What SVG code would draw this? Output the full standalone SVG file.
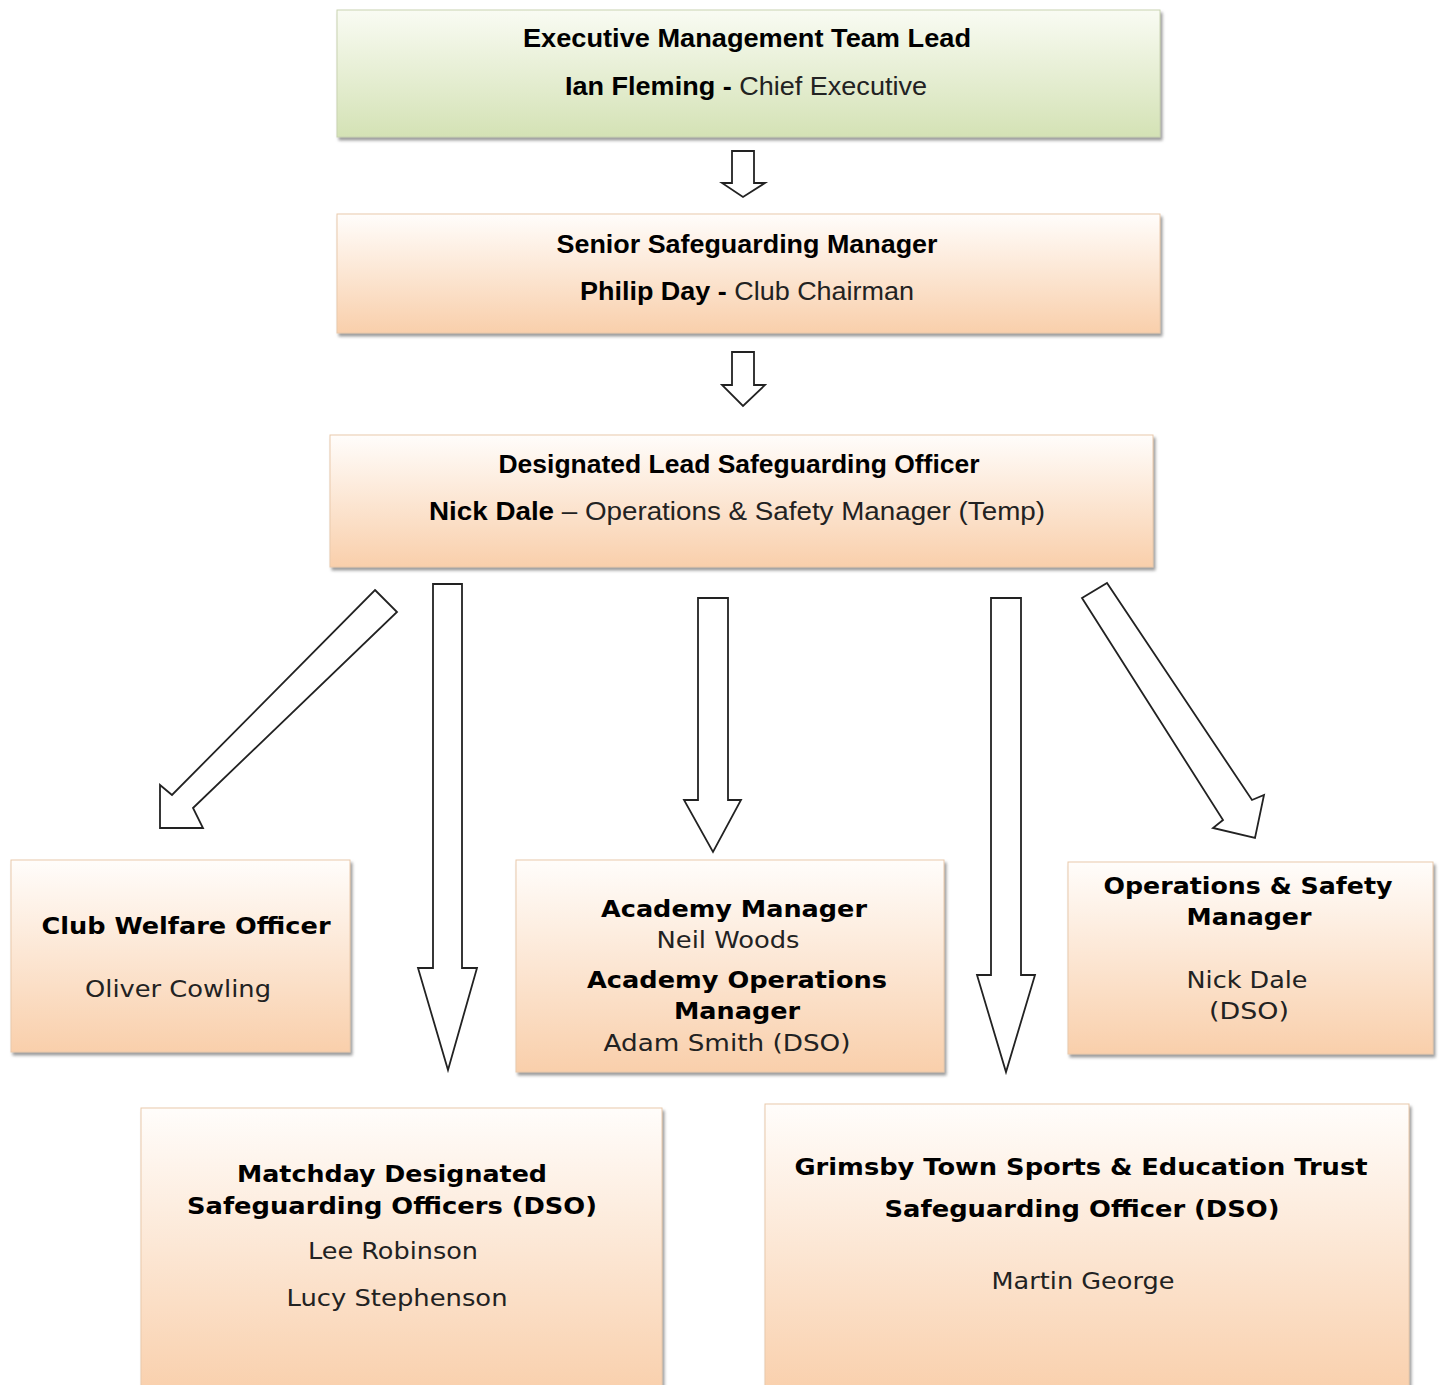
<svg xmlns="http://www.w3.org/2000/svg" width="1441" height="1385" viewBox="0 0 1441 1385">
<style>
.t{font-family:"Liberation Sans",Arial,sans-serif;font-size:25px;fill:#111;text-anchor:middle}
.v{font-family:"DejaVu Sans",Verdana,sans-serif;font-size:23px;fill:#222;text-anchor:middle}
.b{font-weight:bold;fill:#000}
.n{font-weight:normal;fill:#222}
.peach{fill:url(#gp);stroke:#e9c9ab;stroke-width:1;filter:url(#sh)}
.green{fill:url(#gg);stroke:#c9d3b2;stroke-width:1;filter:url(#sh)}
.arr{fill:#fff;stroke:#222;stroke-width:1.8;stroke-linejoin:miter}
</style>
<defs>
<linearGradient id="gp" x1="0" y1="0" x2="0" y2="1">
<stop offset="0" stop-color="#fffdfb"/>
<stop offset="1" stop-color="#f9cfab"/>
</linearGradient>
<linearGradient id="gg" x1="0" y1="0" x2="0" y2="1">
<stop offset="0" stop-color="#f9fbf3"/>
<stop offset="1" stop-color="#d4e2b5"/>
</linearGradient>
<filter id="sh" x="-5%" y="-5%" width="112%" height="120%">
<feDropShadow dx="2" dy="3" stdDeviation="1.8" flood-color="#7a7a7a" flood-opacity="0.75"/>
</filter>
</defs>
<rect width="1441" height="1385" fill="#fff"/>

<g id="connectors">
<path class="arr" d="M732,151 H754 V183 H765 L743,197 L722,183 H732 Z"/>
<path class="arr" d="M732,352 H754 V385 H765 L743,406 L722,385 H732 Z"/>
<path class="arr" d="M375,590 L397,612 L193,808 L203,828 L160,828 L160,785 L172,795 Z"/>
<path class="arr" d="M433,584 H462 V968 H477 L448,1070 L418,968 H433 Z"/>
<path class="arr" d="M698,598 H728 V800 H741 L713,852 L684,800 H698 Z"/>
<path class="arr" d="M991,598 H1021 V975 H1035 L1006,1072 L977,975 H991 Z"/>
<path class="arr" d="M1082,598 L1107,583 L1252,800 L1264,795 L1255,838 L1213,828 L1223,820 Z"/>
</g>

<g id="exec">
<rect class="green" x="337" y="10" width="823" height="127"/>
<text class="t b" x="747" y="47" textLength="448" lengthAdjust="spacingAndGlyphs">Executive Management Team Lead</text>
<text class="t" x="746" y="95" textLength="362" lengthAdjust="spacingAndGlyphs"><tspan class="b">Ian Fleming - </tspan><tspan class="n">Chief Executive</tspan></text>
</g>

<g id="senior">
<rect class="peach" x="337" y="214" width="823" height="119"/>
<text class="t b" x="747" y="253" textLength="381" lengthAdjust="spacingAndGlyphs">Senior Safeguarding Manager</text>
<text class="t" x="747" y="300" textLength="334" lengthAdjust="spacingAndGlyphs"><tspan class="b">Philip Day - </tspan><tspan class="n">Club Chairman</tspan></text>
</g>

<g id="dlso">
<rect class="peach" x="330" y="435" width="823" height="132"/>
<text class="t b" x="739" y="473" textLength="481" lengthAdjust="spacingAndGlyphs">Designated Lead Safeguarding Officer</text>
<text class="t" x="737" y="520" textLength="616" lengthAdjust="spacingAndGlyphs"><tspan class="b">Nick Dale</tspan><tspan class="n"> – Operations &amp; Safety Manager (Temp)</tspan></text>
</g>

<g id="welfare">
<rect class="peach" x="11" y="860" width="339" height="192"/>
<text class="v b" x="186" y="934" textLength="289" lengthAdjust="spacingAndGlyphs">Club Welfare Officer</text>
<text class="v" x="178" y="997" textLength="186" lengthAdjust="spacingAndGlyphs">Oliver Cowling</text>
</g>

<g id="academy">
<rect class="peach" x="516" y="860" width="428" height="212"/>
<text class="v b" x="734" y="917" textLength="266" lengthAdjust="spacingAndGlyphs">Academy Manager</text>
<text class="v" x="728" y="948" textLength="143" lengthAdjust="spacingAndGlyphs">Neil Woods</text>
<text class="v b" x="737" y="988" textLength="300" lengthAdjust="spacingAndGlyphs">Academy Operations</text>
<text class="v b" x="737" y="1019" textLength="126" lengthAdjust="spacingAndGlyphs">Manager</text>
<text class="v" x="727" y="1051" textLength="247" lengthAdjust="spacingAndGlyphs">Adam Smith (DSO)</text>
</g>

<g id="opsafety">
<rect class="peach" x="1068" y="862" width="365" height="192"/>
<text class="v b" x="1248" y="894" textLength="289" lengthAdjust="spacingAndGlyphs">Operations &amp; Safety</text>
<text class="v b" x="1249" y="925" textLength="125" lengthAdjust="spacingAndGlyphs">Manager</text>
<text class="v" x="1247" y="988" textLength="121" lengthAdjust="spacingAndGlyphs">Nick Dale</text>
<text class="v" x="1249" y="1019" textLength="80" lengthAdjust="spacingAndGlyphs">(DSO)</text>
</g>

<g id="matchday">
<rect class="peach" x="141" y="1108" width="521" height="290"/>
<text class="v b" x="392" y="1182" textLength="310" lengthAdjust="spacingAndGlyphs">Matchday Designated</text>
<text class="v b" x="392" y="1214" textLength="410" lengthAdjust="spacingAndGlyphs">Safeguarding Officers (DSO)</text>
<text class="v" x="393" y="1259" textLength="170" lengthAdjust="spacingAndGlyphs">Lee Robinson</text>
<text class="v" x="397" y="1306" textLength="221" lengthAdjust="spacingAndGlyphs">Lucy Stephenson</text>
</g>

<g id="trust">
<rect class="peach" x="765" y="1104" width="644" height="294"/>
<text class="v b" x="1081" y="1175" textLength="573" lengthAdjust="spacingAndGlyphs">Grimsby Town Sports &amp; Education Trust</text>
<text class="v b" x="1082" y="1217" textLength="395" lengthAdjust="spacingAndGlyphs">Safeguarding Officer (DSO)</text>
<text class="v" x="1083" y="1289" textLength="183" lengthAdjust="spacingAndGlyphs">Martin George</text>
</g>
</svg>
